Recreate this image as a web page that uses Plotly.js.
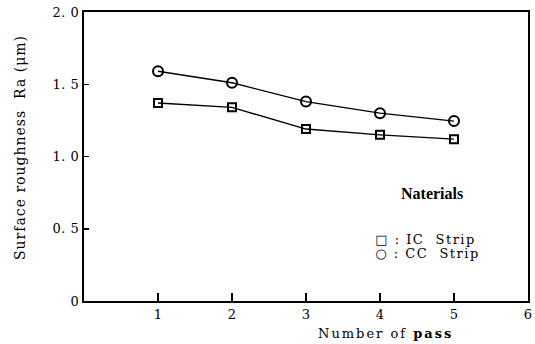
<!DOCTYPE html>
<html><head><meta charset="utf-8">
<script src="https://cdn.plot.ly/plotly-3.0.1.min.js"></script>
<style>html,body{margin:0;padding:0;background:#fff}#c{width:535px;height:344px}
g.annotation[data-index="0"] text{letter-spacing:2px}
g.annotation[data-index="1"] text{letter-spacing:1px}
g.annotation[data-index="3"] text, g.annotation[data-index="4"] text{letter-spacing:1.5px}
.ytick text{letter-spacing:0.5px}</style>
</head><body><div id="c"></div>
<script>
const passes = [1, 2, 3, 4, 5];
const icStrip = [1.37, 1.34, 1.19, 1.15, 1.12];
const ccStrip = [1.59, 1.51, 1.38, 1.30, 1.245];
const yTickVals = [0, 0.5, 1.0, 1.5, 2.0];
const yTickText = ['0', '0. 5', '1. 0', '1. 5', '2. 0'];
const xTickVals = [1, 2, 3, 4, 5, 6];
const xTickText = ['1', '2', '3', '4', '5', '6'];

const fam = 'DejaVu Serif, Liberation Serif, serif';
const f = (s) => ({family: fam, size: s, color: '#000'});

const traces = [
  {x: passes, y: ccStrip, mode: 'lines+markers', name: 'CC Strip',
   line: {color: '#000', width: 1.4},
   marker: {symbol: 'circle-open', size: 10, color: '#000', line: {width: 2, color: '#000'}}},
  {x: passes, y: icStrip, mode: 'lines+markers', name: 'IC Strip',
   line: {color: '#000', width: 1.4},
   marker: {symbol: 'square-open', size: 8, color: '#000', line: {width: 2, color: '#000'}}}
];

const layout = {
  width: 535, height: 344,
  margin: {l: 84, r: 7, t: 12, b: 43},
  paper_bgcolor: '#fff', plot_bgcolor: '#fff',
  showlegend: false,
  font: f(13),
  xaxis: {range: [0, 6], tickvals: xTickVals, ticktext: xTickText,
    ticks: 'inside', ticklen: 8, tickwidth: 1.5, tickcolor: '#000',
    showline: true, linecolor: '#000', linewidth: 2, mirror: true,
    showgrid: false, zeroline: false, fixedrange: true,
    tickfont: f(13)},
  yaxis: {range: [0, 2], tickvals: yTickVals, ticktext: yTickText,
    ticks: 'inside', ticklen: 5, tickwidth: 1.5, tickcolor: '#000',
    showline: true, linecolor: '#000', linewidth: 2, mirror: true,
    showgrid: false, zeroline: false, fixedrange: true,
    tickfont: f(13)},
  annotations: [
    {xref: 'paper', yref: 'paper', x: (385 - 84) / 444, y: -(333 - 301) / 289, xanchor: 'center', yanchor: 'middle',
     text: 'Number of <b>pass</b>', showarrow: false, font: f(13)},
    {xref: 'paper', yref: 'paper', x: (20 - 84) / 444, y: (301 - 148) / 289, xanchor: 'center', yanchor: 'middle',
     text: 'Surface roughness  Ra (μm)', textangle: -90, showarrow: false, font: f(14)},
    {xref: 'paper', yref: 'paper', x: (432 - 84) / 444, y: (301 - 193) / 289, xanchor: 'center', yanchor: 'middle',
     text: '<b>Naterials</b>', showarrow: false,
     font: {family: 'Liberation Sans Narrow, Liberation Serif, serif', size: 16, color: '#000'}},
    {xref: 'paper', yref: 'paper', x: (383 - 84) / 444, y: (301 - 239) / 289, xanchor: 'left', yanchor: 'middle',
     text: '□ : IC  Strip', showarrow: false, font: f(13)},
    {xref: 'paper', yref: 'paper', x: (383 - 84) / 444, y: (301 - 253) / 289, xanchor: 'left', yanchor: 'middle',
     text: '○ : CC  Strip', showarrow: false, font: f(13)}
  ]
};

Plotly.newPlot('c', traces, layout, {staticPlot: true, displayModeBar: false});
</script></body></html>
